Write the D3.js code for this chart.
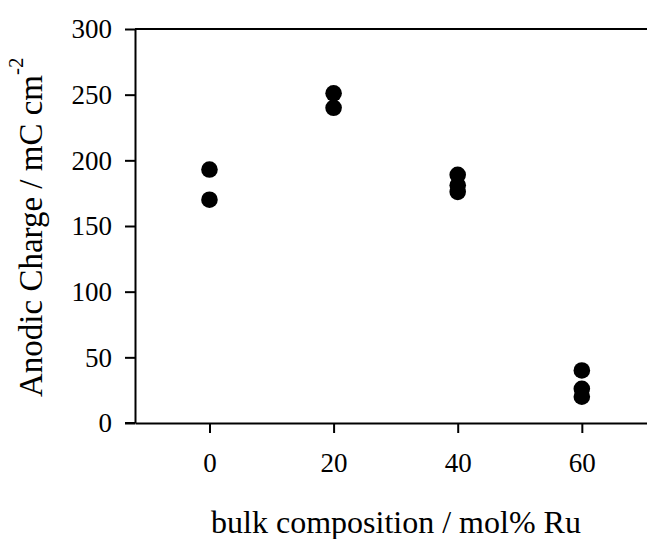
<!DOCTYPE html>
<html>
<head>
<meta charset="utf-8">
<script src="https://cdn.jsdelivr.net/npm/d3@7"></script>
<style>
  html, body { margin: 0; padding: 0; background: #fff; }
  svg { display: block; }
  text { font-family: "Liberation Serif", "Times New Roman", serif; fill: #000; }
</style>
</head>
<body>
<svg id="chart" width="647" height="539"></svg>
<script>
// Data
const compositions = [0, 0, 20, 20, 40, 40, 40, 60, 60, 60];
const charges      = [193, 170, 251, 240, 189, 181, 176, 40, 26, 20];
const xTicks = [0, 20, 40, 60];
const yTicks = [0, 50, 100, 150, 200, 250, 300];
const xTitle = "bulk composition / mol% Ru";
const yTitleMain = "Anodic Charge / mC cm";
const yTitleSup = "-2";

(function () {
const svg = d3.select("#chart");
const mLeft = 135, mRight = 647, mTop = 29, mBottom = 423;

const x = d3.scaleLinear().domain([-12, 70.5]).range([mLeft, mRight]);
const y = d3.scaleLinear().domain([0, 300]).range([mBottom, mTop]);

// top border
svg.append("line")
  .attr("x1", mLeft).attr("x2", mRight)
  .attr("y1", y(300)).attr("y2", y(300))
  .attr("stroke", "#000").attr("stroke-width", 2);

// Y axis
const yAxis = svg.append("g")
  .attr("transform", `translate(${mLeft},0)`)
  .call(d3.axisLeft(y).tickValues(yTicks).tickSize(10).tickSizeOuter(0).tickPadding(13));
yAxis.select(".domain").attr("stroke", "#000").attr("stroke-width", 2);
yAxis.selectAll(".tick line").attr("stroke", "#000").attr("stroke-width", 2);
yAxis.selectAll(".tick text")
  .style("font-size", "27px")
  .style("font-family", "Liberation Serif, Times New Roman, serif")
  .attr("dy", "0.33em");

// X axis
const xAxis = svg.append("g")
  .attr("transform", `translate(0,${mBottom})`)
  .call(d3.axisBottom(x).tickValues(xTicks).tickSize(10).tickSizeOuter(0));
xAxis.select(".domain").attr("stroke", "#000").attr("stroke-width", 2);
xAxis.selectAll(".tick line").attr("stroke", "#000").attr("stroke-width", 2);
xAxis.selectAll(".tick text")
  .style("font-size", "27px")
  .style("font-family", "Liberation Serif, Times New Roman, serif")
  .attr("y", 49).attr("dy", 0);

// extend the x-axis line left to meet the 0 tick stub
svg.append("line")
  .attr("x1", mLeft - 10).attr("x2", mLeft)
  .attr("y1", mBottom).attr("y2", mBottom)
  .attr("stroke", "#000").attr("stroke-width", 2);

// Points
svg.append("g").selectAll("circle")
  .data(compositions.map((c, i) => ({c, v: charges[i]})))
  .join("circle")
  .attr("cx", d => x(d.c))
  .attr("cy", d => y(d.v))
  .attr("r", 8.3)
  .attr("fill", "#000");

// X title
svg.append("text")
  .attr("x", 396).attr("y", 533)
  .attr("text-anchor", "middle")
  .style("font-size", "32px")
  .text(xTitle);

// Y title
const yt = svg.append("text")
  .attr("transform", "translate(42,397) rotate(-90)")
  .attr("text-anchor", "start")
  .style("font-size", "33px");
yt.append("tspan").text(yTitleMain);
yt.append("tspan").style("font-size", "21px").attr("dy", -19).text(yTitleSup);
})();
</script>
</body>
</html>
